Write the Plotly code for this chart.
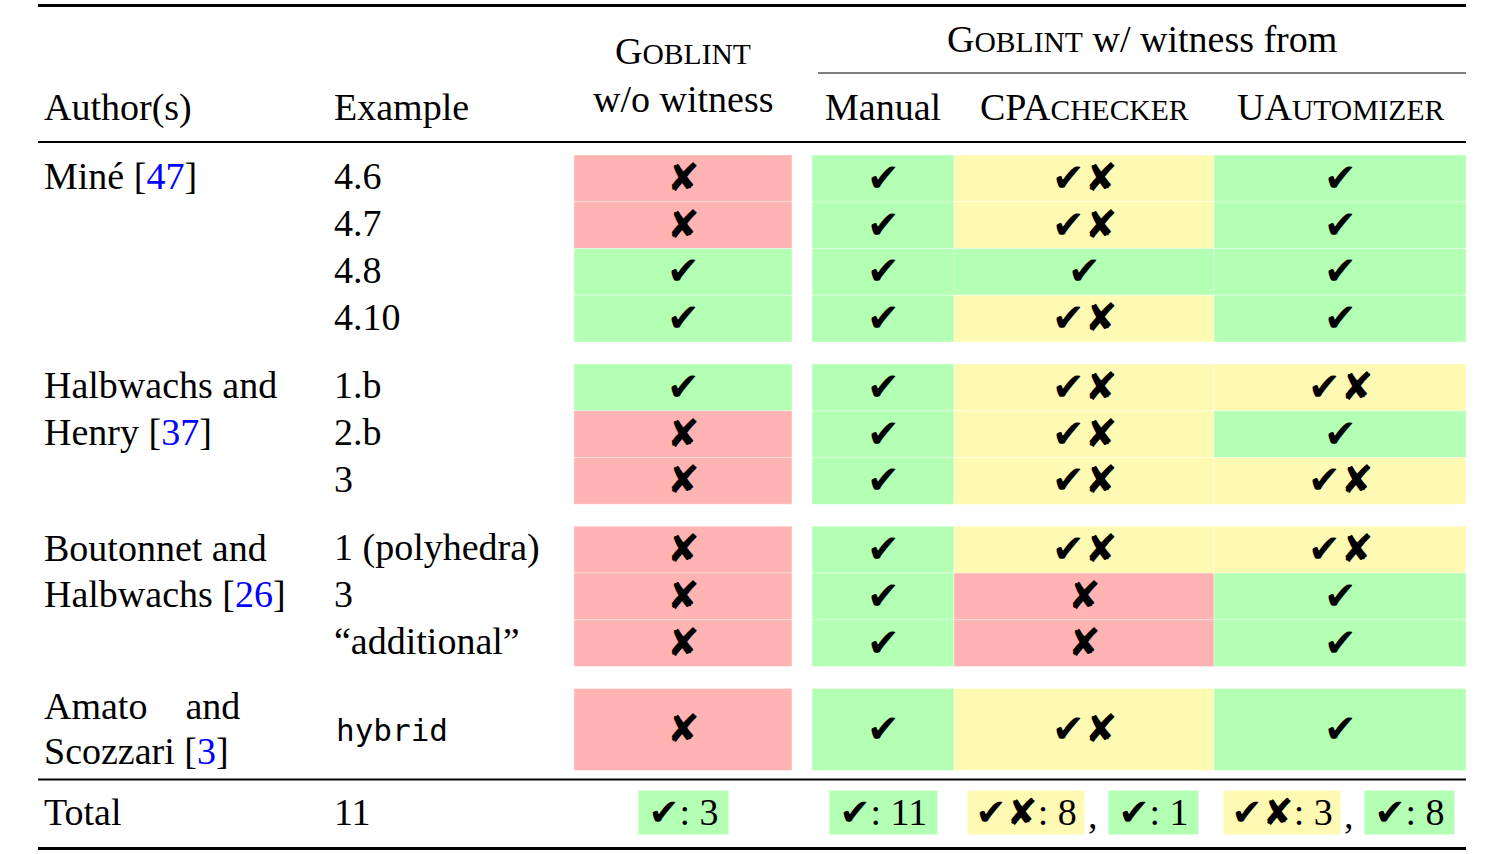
import plotly.graph_objects as go

# ---------------- data ----------------
author_lines = [["Miné"], ["Halbwachs and", "Henry"], ["Boutonnet and", "Halbwachs"], ["Amato&nbsp;&nbsp;&nbsp; and", "Scozzari"]]
citations = ["47", "37", "26", "3"]
group_sizes = [4, 3, 3, 1]
examples = ["4.6", "4.7", "4.8", "4.10", "1.b", "2.b", "3", "1 (polyhedra)", "3", "“additional”", "hybrid"]
mono_examples = ["hybrid"]
without_witness = ["x", "x", "ok", "ok", "ok", "x", "x", "x", "x", "x", "x"]
manual = ["ok", "ok", "ok", "ok", "ok", "ok", "ok", "ok", "ok", "ok", "ok"]
cpachecker = ["okx", "okx", "ok", "okx", "okx", "okx", "okx", "okx", "x", "x", "okx"]
uautomizer = ["ok", "ok", "ok", "ok", "okx", "ok", "okx", "okx", "ok", "ok", "ok"]

# ---------------- style ----------------
SERIF = "Liberation Serif"
SYMF = "DejaVu Sans"
FS = 38
SC = 0.78 * FS
SYMFS = 39
COLORS = {"ok": "#b3ffb3", "x": "#ffb3b3", "okx": "#fffab3"}
SYM = {"ok": "✔", "x": "✘", "okx": "✔✘"}
BLUE = "#0000ff"

X_AUTHOR, X_EXAMPLE = 42, 332
COLS = [(574, 792), (812, 954), (954, 1214), (1214, 1466)]
TABLE_L, TABLE_R = 38, 1466
FIRST_TOP, ROW_H, GAP, TALL_H = 155, 46.75, 22, 82

fig = go.Figure()
shapes, ann = [], []


def text(x, y, t, size=FS, family=SERIF, xa="left", color="black", **kw):
    ann.append(dict(x=x, y=y, text=t, showarrow=False, xref="x", yref="y", xanchor=xa, yanchor="middle",
                    font=dict(family=family, size=size, color=color), **kw))


def hline(y, x0, x1, w):
    shapes.append(dict(type="line", x0=x0, x1=x1, y0=y, y1=y, xref="x", yref="y", line=dict(color="black", width=w)))


def sc(word, n):
    return word[:n] + f"<span style='font-size:{SC:.1f}px'>{word[n:].upper()}</span>"


def sym(v):
    return f"<span style='font-family:{SYMF};font-size:{SYMFS * 0.95:.0f}px'>{SYM[v]}</span>"


# rows geometry
row_tops, row_bots = [], []
y = FIRST_TOP
for g, n in enumerate(group_sizes):
    for k in range(n):
        h = TALL_H if (n == 1) else ROW_H
        row_tops.append(y)
        row_bots.append(y + h)
        y += h
    y += GAP
last_bottom = row_bots[-1]

# rules
hline(5.5, TABLE_L, TABLE_R, 3)
hline(142, TABLE_L, TABLE_R, 2)
hline(73, 818, TABLE_R, 1.2)
hline(last_bottom + 9, TABLE_L, TABLE_R, 2)
hline(848.5, TABLE_L, TABLE_R, 3)

# header
text(X_AUTHOR, 107, "Author(s)")
text(X_EXAMPLE, 107, "Example")
cw = (COLS[0][0] + COLS[0][1]) / 2
text(cw, 51, sc("Goblint", 1), xa="center")
text(cw, 99, "w/o witness", xa="center")
text((818 + TABLE_R) / 2, 39, sc("Goblint", 1) + " w/ witness from", xa="center")
heads = ["Manual", sc("CPAchecker", 3), sc("UAutomizer", 2)]
for (l, r), h in zip(COLS[1:], heads):
    text((l + r) / 2, 107, h, xa="center")

# body
series = [without_witness, manual, cpachecker, uautomizer]
for i, ex in enumerate(examples):
    yc = (row_tops[i] + row_bots[i]) / 2
    if ex in mono_examples:
        text(X_EXAMPLE + 2, yc, ex, family="DejaVu Sans Mono", size=31)
    else:
        text(X_EXAMPLE, yc - 2, ex)
    for (l, r), s in zip(COLS, series):
        v = s[i]
        shapes.append(dict(type="rect", x0=l, x1=r, y0=row_tops[i], y1=row_bots[i], xref="x", yref="y",
                           fillcolor=COLORS[v], line=dict(color="rgba(255,255,255,0.35)", width=1), layer="below"))
        text((l + r) / 2, yc - 1, SYM[v], family=SYMF, size=SYMFS, xa="center")

# authors
start = 0
for g, n in enumerate(group_sizes):
    lines = list(author_lines[g])
    lines[-1] = lines[-1] + f" [<span style='color:{BLUE}'>{citations[g]}</span>]"
    if n == 1:
        yc = (row_tops[start] + row_bots[start]) / 2
        ys = [yc - 24, yc + 21]
    else:
        ys = [(row_tops[start + k] + row_bots[start + k]) / 2 - 2 for k in range(len(lines))]
    for ln, yy in zip(lines, ys):
        text(X_AUTHOR, yy, ln)
    start += n

# totals
YT = 812
text(X_AUTHOR, YT, "Total")
text(X_EXAMPLE, YT, str(len(examples)))
for (l, r), s in zip(COLS, series):
    c = (l + r) / 2
    parts = [k for k in ["okx", "ok"] if s.count(k) > 0]
    if len(parts) == 1:
        k = parts[0]
        text(c, YT, f"&nbsp;{sym(k)}: {s.count(k)}&nbsp;", xa="center", bgcolor=COLORS[k], borderpad=0)
    else:
        k0, k1 = parts
        text(c + 1, YT, f"&#8201;{sym(k0)}: {s.count(k0)}&#8201;", xa="right", bgcolor=COLORS[k0], borderpad=0)
        text(c + 2, YT + 3, ",", xa="left")
        text(c + 24, YT, f"&nbsp;{sym(k1)}: {s.count(k1)}&nbsp;", xa="left", bgcolor=COLORS[k1], borderpad=0)

fig.update_layout(
    width=1502, height=854, margin=dict(l=0, r=0, t=0, b=0),
    paper_bgcolor="white", plot_bgcolor="white",
    xaxis=dict(range=[0, 1502], visible=False, fixedrange=True),
    yaxis=dict(range=[854, 0], visible=False, fixedrange=True),
    shapes=shapes, annotations=ann, showlegend=False,
)
fig.write_html("out.html", config={"displayModeBar": False},
               post_script="document.body.style.margin='0';document.body.style.overflow='hidden';")
